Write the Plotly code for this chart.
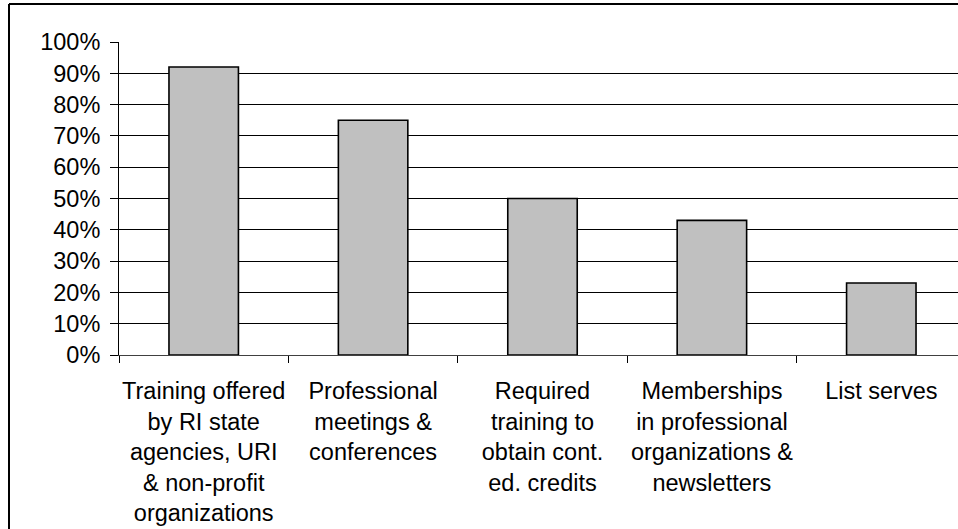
import plotly.graph_objects as go

# Survey: sources of continuing education used by respondents
categories = [
    "Training offered<br>by RI state<br>agencies, URI<br>& non-profit<br>organizations",
    "Professional<br>meetings &<br>conferences",
    "Required<br>training to<br>obtain cont.<br>ed. credits",
    "Memberships<br>in professional<br>organizations &<br>newsletters",
    "List serves",
]
shares = [0.92, 0.75, 0.50, 0.43, 0.23]
y_tick_values = [i / 10 for i in range(11)]
y_tick_labels = [f"{i * 10}%" for i in range(11)]

W, H = 958, 529
plot_left, plot_right = 119, 958
plot_top, plot_bottom = 42, 355
cat_px = 169.4  # pixel width of one category slot

fig = go.Figure(
    go.Bar(
        x=categories,
        y=shares,
        marker=dict(color="#C0C0C0", line=dict(color="black", width=1.6)),
        hoverinfo="skip",
    )
)

x_end = -0.5 + (plot_right - plot_left) / cat_px
font = dict(family="Liberation Sans, Arial, sans-serif", size=23.5, color="black")

fig.update_layout(
    width=W,
    height=H,
    margin=dict(l=plot_left, r=W - plot_right, t=plot_top, b=H - plot_bottom),
    paper_bgcolor="white",
    plot_bgcolor="white",
    bargap=0.59,
    showlegend=False,
    font=font,
    xaxis=dict(
        range=[-0.5, x_end],
        tickson="boundaries",
        ticks="outside",
        ticklen=7,
        tickcolor="black",
        tickwidth=1,
        showline=True,
        linecolor="#404040",
        linewidth=1,
        showgrid=False,
        tickangle=0,
        tickfont=font,
        ticklabelstandoff=15,
    ),
    yaxis=dict(
        range=[0, 1],
        tickvals=y_tick_values,
        ticktext=y_tick_labels,
        ticks="outside",
        ticklen=8,
        tickcolor="black",
        tickwidth=1,
        showline=True,
        linecolor="black",
        linewidth=1,
        showgrid=True,
        gridcolor="black",
        gridwidth=1,
        zeroline=False,
        tickfont=font,
        ticklabelstandoff=5,
    ),
)

# Chart frame: left and top edges, drawn in paper coordinates in the margins
ph = plot_bottom - plot_top
pw = plot_right - plot_left
frame_x = (9 - plot_left) / pw
frame_y = 1 + (plot_top - 4) / ph
frame_line = dict(color="black", width=2)
fig.add_shape(type="line", xref="paper", yref="paper",
              x0=frame_x, x1=frame_x, y0=-1.0, y1=frame_y, line=frame_line)
fig.add_shape(type="line", xref="paper", yref="paper",
              x0=frame_x, x1=1.5, y0=frame_y, y1=frame_y, line=frame_line)

fig.write_html("out.html")
